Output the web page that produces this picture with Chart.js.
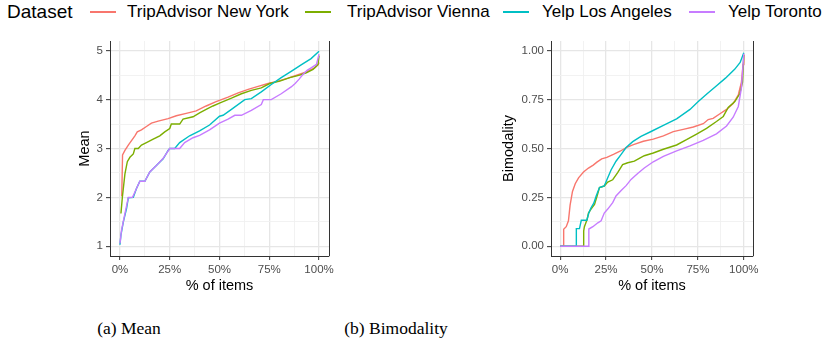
<!DOCTYPE html>
<html>
<head>
<meta charset="utf-8">
<script src="https://cdn.jsdelivr.net/npm/chart.js@4.4.1/dist/chart.umd.min.js"></script>
<style>
  body { margin: 0; background: #fff; width: 830px; height: 347px; overflow: hidden; position: relative; font-family: "Liberation Sans", Arial, sans-serif; }
  .abs { position: absolute; }
  .legend-title { left: 7px; top: 0; height: 24px; line-height: 24px; font-size: 19px; color: #000; }
  .legend-text { top: 0; height: 24px; line-height: 24px; font-size: 17px; color: #000; white-space: nowrap; }
  .legend-line { top: 11px; height: 2px; }
  .caption { top: 318px; height: 20px; line-height: 20px; font-family: "Liberation Serif", "DejaVu Serif", serif; font-size: 17.5px; transform: translateX(-50%); white-space: nowrap; }
  canvas { position: absolute; }
</style>
</head>
<body>
<div id="legend"></div>
<canvas id="meanChart" width="280" height="265" style="left:60px; top:35px;"></canvas>
<canvas id="bimoChart" width="280" height="265" style="left:490px; top:35px;"></canvas>
<div class="abs caption" style="left:129px;">(a) Mean</div>
<div class="abs caption" style="left:396px;">(b) Bimodality</div>

<script>
// Series names and colours (ggplot default hues)
const seriesNames = ['TripAdvisor New York', 'TripAdvisor Vienna', 'Yelp Los Angeles', 'Yelp Toronto'];
const seriesColors = ['#F8766D', '#7CAE00', '#00BFC4', '#C77CFF'];

// Panel (a): mean rating, [% of items, mean]
const meanNewYork = [[0.9,2.02],[1.3,2.87],[2.5,2.96],[4.2,3.07],[5.8,3.16],[7.5,3.26],[8.7,3.34],[10.8,3.38],[13.3,3.45],[15.8,3.52],[19.2,3.56],[24.2,3.61],[28.3,3.67],[33.3,3.72],[38.3,3.77],[43.3,3.87],[48.3,3.96],[54.3,4.05],[59.4,4.14],[64.4,4.21],[69.4,4.27],[74.4,4.33],[79.4,4.38],[84.4,4.44],[89.5,4.51],[93.6,4.57],[97.8,4.65],[99.5,4.71],[100,4.76]];
const meanVienna = [[0.5,1.67],[1.2,2.0],[2.5,2.48],[3.7,2.73],[5,2.82],[6.7,2.89],[7.5,3.0],[9.2,3.0],[10.8,3.07],[13.3,3.12],[16.7,3.19],[20,3.26],[22.5,3.34],[25,3.41],[25.8,3.5],[30,3.5],[31.7,3.6],[36.7,3.65],[40,3.73],[43.3,3.8],[46.7,3.87],[50,3.93],[56,4.03],[61,4.12],[66,4.19],[71,4.24],[75.2,4.33],[80.3,4.38],[85.3,4.45],[90.3,4.5],[93.6,4.55],[97,4.62],[99.5,4.72],[100,4.9]];
const meanLosAngeles = [[0,1.03],[0.5,1.23],[1.7,1.5],[3.3,1.77],[4.2,1.99],[6.7,2.0],[8.3,2.18],[10,2.33],[12.5,2.33],[15,2.52],[18.3,2.65],[21.7,2.79],[24.2,2.96],[25,3.0],[27.5,3.0],[30,3.12],[35,3.26],[40,3.36],[45,3.48],[50,3.66],[51.8,3.68],[56,3.8],[62.7,4.0],[66,4.02],[71,4.16],[76,4.31],[81,4.45],[86,4.58],[91,4.71],[96,4.84],[100,4.99]];
const meanToronto = [[0,1.06],[0.8,1.33],[2,1.57],[4.2,2.0],[6.3,2.0],[8.3,2.18],[10,2.33],[12.5,2.33],[15,2.52],[18.3,2.65],[21.7,2.8],[25,3.0],[30,3.0],[32.5,3.12],[36.7,3.22],[40,3.27],[45,3.38],[50,3.52],[54.3,3.6],[57.7,3.68],[61,3.68],[66,3.78],[71,3.9],[72,4.0],[76,4.0],[81,4.12],[86,4.26],[88,4.33],[90,4.42],[92,4.52],[94,4.6],[96,4.65],[98.7,4.72],[100,4.93]];

// Panel (b): bimodality, [% of items, bimodality]
const bimoNewYork = [[0,0],[1.8,0],[1.9,0.087],[3.3,0.10],[4.5,0.13],[5.4,0.21],[6.7,0.28],[8.2,0.32],[10,0.35],[12.7,0.38],[15.4,0.40],[18,0.415],[20,0.43],[22.6,0.447],[25.4,0.455],[29,0.47],[32.6,0.486],[36.2,0.506],[39.9,0.52],[45.3,0.537],[50.7,0.548],[56.2,0.565],[61.6,0.586],[67,0.598],[72.5,0.61],[77.9,0.627],[80.6,0.648],[83.3,0.654],[87,0.678],[90.6,0.70],[94.2,0.73],[97,0.775],[98.7,0.84],[99.6,0.93],[100,0.98]];
const bimoVienna = [[0,0],[12.7,0],[12.8,0.078],[13.2,0.10],[14.7,0.138],[15.4,0.17],[16.8,0.19],[18.7,0.214],[20.1,0.257],[21.4,0.30],[24,0.308],[25.9,0.328],[28.6,0.34],[31.3,0.376],[34,0.418],[36.8,0.427],[40.4,0.435],[43.1,0.45],[45.8,0.463],[50.7,0.477],[56.2,0.496],[63.4,0.518],[68.8,0.545],[74.3,0.574],[79.7,0.603],[85.1,0.638],[88.8,0.664],[91.5,0.71],[95.1,0.74],[97.8,0.78],[99.3,0.84],[100,0.98]];
const bimoLosAngeles = [[0,0],[8.7,0],[8.8,0.09],[10.5,0.09],[11.5,0.133],[14.5,0.133],[15.6,0.17],[16.8,0.197],[18.3,0.22],[19.6,0.257],[21.4,0.30],[24,0.308],[25.9,0.35],[27.7,0.39],[30.4,0.435],[33.2,0.47],[35.9,0.505],[39.5,0.535],[44,0.562],[49.5,0.587],[56.2,0.618],[63.4,0.652],[70.7,0.70],[75.2,0.74],[80,0.78],[85,0.82],[90,0.86],[95,0.905],[98,0.94],[100,0.99]];
const bimoToronto = [[0,0],[15.5,0],[15.6,0.088],[17.8,0.10],[20.5,0.12],[22.3,0.13],[24,0.17],[25.9,0.19],[28.6,0.223],[30.4,0.257],[33.2,0.285],[35.9,0.31],[38.6,0.342],[42.2,0.372],[45.8,0.40],[50.7,0.432],[56.2,0.46],[63.4,0.488],[70.7,0.513],[77.9,0.542],[85.1,0.575],[90.6,0.615],[94.2,0.66],[97,0.715],[98.7,0.81],[100,0.985]];

// Axis ticks: major (labelled) and minor grid values
const xMajor = [0, 25, 50, 75, 100];
const xGrid = [0, 12.5, 25, 37.5, 50, 62.5, 75, 87.5, 100];
const meanMajor = [1, 2, 3, 4, 5];
const meanGrid = [1, 1.5, 2, 2.5, 3, 3.5, 4, 4.5, 5];
const bimoMajor = [0, 0.25, 0.5, 0.75, 1];
const bimoGrid = [0, 0.125, 0.25, 0.375, 0.5, 0.625, 0.75, 0.875, 1];

const FONT = '"Liberation Sans", Arial, sans-serif';
const AXIS_COLOR = '#333333';

// legend row
const legendPos = [
  { line: 90, text: 127 },
  { line: 305, text: 347 },
  { line: 503, text: 542 },
  { line: 689, text: 728 }
];
const legend = document.getElementById('legend');
legend.innerHTML = '<div class="abs legend-title">Dataset</div>' +
  seriesNames.map((name, i) =>
    `<div class="abs legend-line" style="left:${legendPos[i].line}px;width:26px;background:${seriesColors[i]}"></div>` +
    `<div class="abs legend-text" style="left:${legendPos[i].text}px">${name}</div>`
  ).join('');

// right-hand panel border
const rightBorder = {
  id: 'rightBorder',
  afterDatasetsDraw(chart) {
    const { ctx, chartArea } = chart;
    ctx.save();
    ctx.strokeStyle = AXIS_COLOR;
    ctx.lineWidth = 1;
    ctx.beginPath();
    ctx.moveTo(chartArea.right + 0.5, chartArea.top);
    ctx.lineTo(chartArea.right + 0.5, chartArea.bottom);
    ctx.stroke();
    ctx.restore();
  }
};

function gridOpts(major) {
  return {
    color: c => major.includes(c.tick.value) ? '#E6E6E6' : '#F0F0F0',
    lineWidth: c => major.includes(c.tick.value) ? 1.3 : 0.9,
    drawTicks: true,
    tickLength: 4,
    tickWidth: 1,
    tickColor: c => major.includes(c.tick.value) ? AXIS_COLOR : 'rgba(0,0,0,0)'
  };
}

function makeChart(id, series, yMin, yMax, yGrid, yMajor, yFmt, yTitle, yWidth, yTitlePad, padRight) {
  const datasets = series.map((pts, i) => ({
    label: seriesNames[i],
    data: pts.map(p => ({ x: p[0], y: p[1] })),
    borderColor: seriesColors[i],
    backgroundColor: seriesColors[i],
    borderWidth: 1.4,
    pointRadius: 0,
    showLine: true,
    fill: false,
    tension: 0,
    order: 4 - i
  }));

  return new Chart(document.getElementById(id), {
    type: 'scatter',
    data: { datasets },
    options: {
      responsive: false,
      animation: false,
      devicePixelRatio: 1,
      layout: { padding: { left: 0, right: padRight, top: 6, bottom: 0 } },
      plugins: { legend: { display: false }, tooltip: { enabled: false } },
      scales: {
        x: {
          type: 'linear',
          min: -5,
          max: 105,
          afterBuildTicks: s => { s.ticks = xGrid.map(v => ({ value: v })); },
          afterFit: s => { s.height = 44; s.paddingLeft = 0; s.paddingRight = 0; },
          grid: gridOpts(xMajor),
          border: { display: true, color: AXIS_COLOR, width: 1 },
          ticks: {
            autoSkip: false,
            maxRotation: 0,
            padding: 3,
            color: '#4D4D4D',
            font: { family: FONT, size: 11.5 },
            callback: v => xMajor.includes(v) ? v + '%' : ''
          },
          title: {
            display: true,
            text: '% of items',
            color: '#000',
            font: { family: FONT, size: 14.5 },
            padding: { top: 0, bottom: 5.8 }
          }
        },
        y: {
          type: 'linear',
          min: yMin,
          max: yMax,
          afterBuildTicks: s => { s.ticks = yGrid.map(v => ({ value: v })); },
          afterFit: s => { s.width = yWidth; s.paddingTop = 0; s.paddingBottom = 0; },
          grid: gridOpts(yMajor),
          border: { display: true, color: AXIS_COLOR, width: 1 },
          ticks: {
            autoSkip: false,
            padding: 3,
            color: '#4D4D4D',
            font: { family: FONT, size: 11.5 },
            callback: v => yMajor.includes(v) ? yFmt(v) : ''
          },
          title: {
            display: true,
            text: yTitle,
            color: '#000',
            font: { family: FONT, size: 14.5 },
            padding: { top: yTitlePad, bottom: 0 }
          }
        }
      }
    },
    plugins: [rightBorder]
  });
}

makeChart('meanChart', [meanNewYork, meanVienna, meanLosAngeles, meanToronto],
  0.8, 5.2, meanGrid, meanMajor, v => String(v), 'Mean', 50, 16.3, 11);
makeChart('bimoChart', [bimoNewYork, bimoVienna, bimoLosAngeles, bimoToronto],
  -0.05, 1.05, bimoGrid, bimoMajor, v => v.toFixed(2), 'Bimodality', 61, 10.3, 17);
</script>
</body>
</html>
